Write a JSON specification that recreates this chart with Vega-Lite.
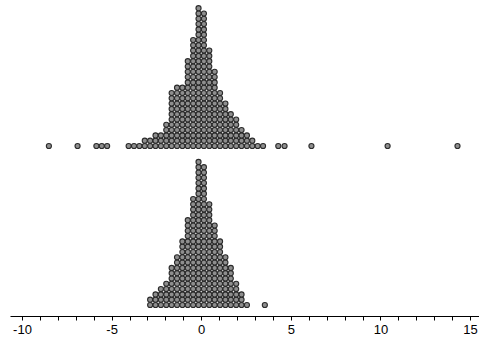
{
"$schema": "https://vega.github.io/schema/vega-lite/v6.json",
"padding": {"left": 10, "top": 0, "right": 0, "bottom": 0},
"background": "white",
"data": {"values": [
{"g":"a","v":-8.5},{"g":"a","v":-6.9},{"g":"a","v":-5.85},{"g":"a","v":-5.55},{"g":"a","v":-5.25},
{"g":"a","v":-4.05},{"g":"a","v":-3.75},{"g":"a","v":-3.45},
{"g":"a","v":-3.15},{"g":"a","v":-3.15},
{"g":"a","v":-2.85},{"g":"a","v":-2.85},
{"g":"a","v":-2.55},{"g":"a","v":-2.55},{"g":"a","v":-2.55},
{"g":"a","v":-2.25},{"g":"a","v":-2.25},{"g":"a","v":-2.25},
{"g":"a","v":-1.95},{"g":"a","v":-1.95},{"g":"a","v":-1.95},{"g":"a","v":-1.95},{"g":"a","v":-1.95},
{"g":"a","v":-1.65},{"g":"a","v":-1.65},{"g":"a","v":-1.65},{"g":"a","v":-1.65},{"g":"a","v":-1.65},{"g":"a","v":-1.65},{"g":"a","v":-1.65},{"g":"a","v":-1.65},{"g":"a","v":-1.65},{"g":"a","v":-1.65},
{"g":"a","v":-1.65},
{"g":"a","v":-1.35},{"g":"a","v":-1.35},{"g":"a","v":-1.35},{"g":"a","v":-1.35},{"g":"a","v":-1.35},{"g":"a","v":-1.35},{"g":"a","v":-1.35},{"g":"a","v":-1.35},{"g":"a","v":-1.35},{"g":"a","v":-1.35},
{"g":"a","v":-1.35},{"g":"a","v":-1.35},
{"g":"a","v":-1.05},{"g":"a","v":-1.05},{"g":"a","v":-1.05},{"g":"a","v":-1.05},{"g":"a","v":-1.05},{"g":"a","v":-1.05},{"g":"a","v":-1.05},{"g":"a","v":-1.05},{"g":"a","v":-1.05},{"g":"a","v":-1.05},
{"g":"a","v":-1.05},{"g":"a","v":-1.05},
{"g":"a","v":-0.75},{"g":"a","v":-0.75},{"g":"a","v":-0.75},{"g":"a","v":-0.75},{"g":"a","v":-0.75},{"g":"a","v":-0.75},{"g":"a","v":-0.75},{"g":"a","v":-0.75},{"g":"a","v":-0.75},{"g":"a","v":-0.75},
{"g":"a","v":-0.75},{"g":"a","v":-0.75},{"g":"a","v":-0.75},{"g":"a","v":-0.75},{"g":"a","v":-0.75},{"g":"a","v":-0.75},{"g":"a","v":-0.75},
{"g":"a","v":-0.45},{"g":"a","v":-0.45},{"g":"a","v":-0.45},{"g":"a","v":-0.45},{"g":"a","v":-0.45},{"g":"a","v":-0.45},{"g":"a","v":-0.45},{"g":"a","v":-0.45},{"g":"a","v":-0.45},{"g":"a","v":-0.45},
{"g":"a","v":-0.45},{"g":"a","v":-0.45},{"g":"a","v":-0.45},{"g":"a","v":-0.45},{"g":"a","v":-0.45},{"g":"a","v":-0.45},{"g":"a","v":-0.45},{"g":"a","v":-0.45},{"g":"a","v":-0.45},{"g":"a","v":-0.45},
{"g":"a","v":-0.45},
{"g":"a","v":-0.15},{"g":"a","v":-0.15},{"g":"a","v":-0.15},{"g":"a","v":-0.15},{"g":"a","v":-0.15},{"g":"a","v":-0.15},{"g":"a","v":-0.15},{"g":"a","v":-0.15},{"g":"a","v":-0.15},{"g":"a","v":-0.15},
{"g":"a","v":-0.15},{"g":"a","v":-0.15},{"g":"a","v":-0.15},{"g":"a","v":-0.15},{"g":"a","v":-0.15},{"g":"a","v":-0.15},{"g":"a","v":-0.15},{"g":"a","v":-0.15},{"g":"a","v":-0.15},{"g":"a","v":-0.15},
{"g":"a","v":-0.15},{"g":"a","v":-0.15},{"g":"a","v":-0.15},{"g":"a","v":-0.15},{"g":"a","v":-0.15},{"g":"a","v":-0.15},{"g":"a","v":-0.15},
{"g":"a","v":0.15},{"g":"a","v":0.15},{"g":"a","v":0.15},{"g":"a","v":0.15},{"g":"a","v":0.15},{"g":"a","v":0.15},{"g":"a","v":0.15},{"g":"a","v":0.15},{"g":"a","v":0.15},{"g":"a","v":0.15},
{"g":"a","v":0.15},{"g":"a","v":0.15},{"g":"a","v":0.15},{"g":"a","v":0.15},{"g":"a","v":0.15},{"g":"a","v":0.15},{"g":"a","v":0.15},{"g":"a","v":0.15},{"g":"a","v":0.15},{"g":"a","v":0.15},
{"g":"a","v":0.15},{"g":"a","v":0.15},{"g":"a","v":0.15},{"g":"a","v":0.15},{"g":"a","v":0.15},{"g":"a","v":0.15},
{"g":"a","v":0.45},{"g":"a","v":0.45},{"g":"a","v":0.45},{"g":"a","v":0.45},{"g":"a","v":0.45},{"g":"a","v":0.45},{"g":"a","v":0.45},{"g":"a","v":0.45},{"g":"a","v":0.45},{"g":"a","v":0.45},
{"g":"a","v":0.45},{"g":"a","v":0.45},{"g":"a","v":0.45},{"g":"a","v":0.45},{"g":"a","v":0.45},{"g":"a","v":0.45},{"g":"a","v":0.45},{"g":"a","v":0.45},{"g":"a","v":0.45},
{"g":"a","v":0.75},{"g":"a","v":0.75},{"g":"a","v":0.75},{"g":"a","v":0.75},{"g":"a","v":0.75},{"g":"a","v":0.75},{"g":"a","v":0.75},{"g":"a","v":0.75},{"g":"a","v":0.75},{"g":"a","v":0.75},
{"g":"a","v":0.75},{"g":"a","v":0.75},{"g":"a","v":0.75},{"g":"a","v":0.75},{"g":"a","v":0.75},
{"g":"a","v":1.05},{"g":"a","v":1.05},{"g":"a","v":1.05},{"g":"a","v":1.05},{"g":"a","v":1.05},{"g":"a","v":1.05},{"g":"a","v":1.05},{"g":"a","v":1.05},{"g":"a","v":1.05},{"g":"a","v":1.05},
{"g":"a","v":1.05},
{"g":"a","v":1.35},{"g":"a","v":1.35},{"g":"a","v":1.35},{"g":"a","v":1.35},{"g":"a","v":1.35},{"g":"a","v":1.35},{"g":"a","v":1.35},{"g":"a","v":1.35},{"g":"a","v":1.35},
{"g":"a","v":1.65},{"g":"a","v":1.65},{"g":"a","v":1.65},{"g":"a","v":1.65},{"g":"a","v":1.65},{"g":"a","v":1.65},{"g":"a","v":1.65},
{"g":"a","v":1.95},{"g":"a","v":1.95},{"g":"a","v":1.95},{"g":"a","v":1.95},{"g":"a","v":1.95},{"g":"a","v":1.95},
{"g":"a","v":2.25},{"g":"a","v":2.25},{"g":"a","v":2.25},{"g":"a","v":2.25},
{"g":"a","v":2.55},{"g":"a","v":2.55},{"g":"a","v":2.55},
{"g":"a","v":2.85},{"g":"a","v":2.85},
{"g":"a","v":3.15},{"g":"a","v":3.45},{"g":"a","v":4.3},{"g":"a","v":4.65},{"g":"a","v":6.15},{"g":"a","v":10.4},{"g":"a","v":14.3},
{"g":"b","v":-2.85},{"g":"b","v":-2.85},
{"g":"b","v":-2.55},{"g":"b","v":-2.55},{"g":"b","v":-2.55},
{"g":"b","v":-2.25},{"g":"b","v":-2.25},{"g":"b","v":-2.25},{"g":"b","v":-2.25},
{"g":"b","v":-1.95},{"g":"b","v":-1.95},{"g":"b","v":-1.95},{"g":"b","v":-1.95},{"g":"b","v":-1.95},
{"g":"b","v":-1.65},{"g":"b","v":-1.65},{"g":"b","v":-1.65},{"g":"b","v":-1.65},{"g":"b","v":-1.65},{"g":"b","v":-1.65},{"g":"b","v":-1.65},{"g":"b","v":-1.65},
{"g":"b","v":-1.35},{"g":"b","v":-1.35},{"g":"b","v":-1.35},{"g":"b","v":-1.35},{"g":"b","v":-1.35},{"g":"b","v":-1.35},{"g":"b","v":-1.35},{"g":"b","v":-1.35},{"g":"b","v":-1.35},{"g":"b","v":-1.35},
{"g":"b","v":-1.05},{"g":"b","v":-1.05},{"g":"b","v":-1.05},{"g":"b","v":-1.05},{"g":"b","v":-1.05},{"g":"b","v":-1.05},{"g":"b","v":-1.05},{"g":"b","v":-1.05},{"g":"b","v":-1.05},{"g":"b","v":-1.05},
{"g":"b","v":-1.05},{"g":"b","v":-1.05},{"g":"b","v":-1.05},
{"g":"b","v":-0.75},{"g":"b","v":-0.75},{"g":"b","v":-0.75},{"g":"b","v":-0.75},{"g":"b","v":-0.75},{"g":"b","v":-0.75},{"g":"b","v":-0.75},{"g":"b","v":-0.75},{"g":"b","v":-0.75},{"g":"b","v":-0.75},
{"g":"b","v":-0.75},{"g":"b","v":-0.75},{"g":"b","v":-0.75},{"g":"b","v":-0.75},{"g":"b","v":-0.75},{"g":"b","v":-0.75},{"g":"b","v":-0.75},
{"g":"b","v":-0.45},{"g":"b","v":-0.45},{"g":"b","v":-0.45},{"g":"b","v":-0.45},{"g":"b","v":-0.45},{"g":"b","v":-0.45},{"g":"b","v":-0.45},{"g":"b","v":-0.45},{"g":"b","v":-0.45},{"g":"b","v":-0.45},
{"g":"b","v":-0.45},{"g":"b","v":-0.45},{"g":"b","v":-0.45},{"g":"b","v":-0.45},{"g":"b","v":-0.45},{"g":"b","v":-0.45},{"g":"b","v":-0.45},{"g":"b","v":-0.45},{"g":"b","v":-0.45},{"g":"b","v":-0.45},
{"g":"b","v":-0.45},
{"g":"b","v":-0.15},{"g":"b","v":-0.15},{"g":"b","v":-0.15},{"g":"b","v":-0.15},{"g":"b","v":-0.15},{"g":"b","v":-0.15},{"g":"b","v":-0.15},{"g":"b","v":-0.15},{"g":"b","v":-0.15},{"g":"b","v":-0.15},
{"g":"b","v":-0.15},{"g":"b","v":-0.15},{"g":"b","v":-0.15},{"g":"b","v":-0.15},{"g":"b","v":-0.15},{"g":"b","v":-0.15},{"g":"b","v":-0.15},{"g":"b","v":-0.15},{"g":"b","v":-0.15},{"g":"b","v":-0.15},
{"g":"b","v":-0.15},{"g":"b","v":-0.15},{"g":"b","v":-0.15},{"g":"b","v":-0.15},{"g":"b","v":-0.15},{"g":"b","v":-0.15},{"g":"b","v":-0.15},{"g":"b","v":-0.15},
{"g":"b","v":0.15},{"g":"b","v":0.15},{"g":"b","v":0.15},{"g":"b","v":0.15},{"g":"b","v":0.15},{"g":"b","v":0.15},{"g":"b","v":0.15},{"g":"b","v":0.15},{"g":"b","v":0.15},{"g":"b","v":0.15},
{"g":"b","v":0.15},{"g":"b","v":0.15},{"g":"b","v":0.15},{"g":"b","v":0.15},{"g":"b","v":0.15},{"g":"b","v":0.15},{"g":"b","v":0.15},{"g":"b","v":0.15},{"g":"b","v":0.15},{"g":"b","v":0.15},
{"g":"b","v":0.15},{"g":"b","v":0.15},{"g":"b","v":0.15},{"g":"b","v":0.15},{"g":"b","v":0.15},{"g":"b","v":0.15},{"g":"b","v":0.15},
{"g":"b","v":0.45},{"g":"b","v":0.45},{"g":"b","v":0.45},{"g":"b","v":0.45},{"g":"b","v":0.45},{"g":"b","v":0.45},{"g":"b","v":0.45},{"g":"b","v":0.45},{"g":"b","v":0.45},{"g":"b","v":0.45},
{"g":"b","v":0.45},{"g":"b","v":0.45},{"g":"b","v":0.45},{"g":"b","v":0.45},{"g":"b","v":0.45},{"g":"b","v":0.45},{"g":"b","v":0.45},{"g":"b","v":0.45},{"g":"b","v":0.45},{"g":"b","v":0.45},
{"g":"b","v":0.75},{"g":"b","v":0.75},{"g":"b","v":0.75},{"g":"b","v":0.75},{"g":"b","v":0.75},{"g":"b","v":0.75},{"g":"b","v":0.75},{"g":"b","v":0.75},{"g":"b","v":0.75},{"g":"b","v":0.75},
{"g":"b","v":0.75},{"g":"b","v":0.75},{"g":"b","v":0.75},{"g":"b","v":0.75},{"g":"b","v":0.75},{"g":"b","v":0.75},
{"g":"b","v":1.05},{"g":"b","v":1.05},{"g":"b","v":1.05},{"g":"b","v":1.05},{"g":"b","v":1.05},{"g":"b","v":1.05},{"g":"b","v":1.05},{"g":"b","v":1.05},{"g":"b","v":1.05},{"g":"b","v":1.05},
{"g":"b","v":1.05},{"g":"b","v":1.05},{"g":"b","v":1.05},
{"g":"b","v":1.35},{"g":"b","v":1.35},{"g":"b","v":1.35},{"g":"b","v":1.35},{"g":"b","v":1.35},{"g":"b","v":1.35},{"g":"b","v":1.35},{"g":"b","v":1.35},{"g":"b","v":1.35},{"g":"b","v":1.35},
{"g":"b","v":1.65},{"g":"b","v":1.65},{"g":"b","v":1.65},{"g":"b","v":1.65},{"g":"b","v":1.65},{"g":"b","v":1.65},{"g":"b","v":1.65},{"g":"b","v":1.65},
{"g":"b","v":1.95},{"g":"b","v":1.95},{"g":"b","v":1.95},{"g":"b","v":1.95},{"g":"b","v":1.95},
{"g":"b","v":2.25},{"g":"b","v":2.25},{"g":"b","v":2.25},
{"g":"b","v":2.55},
{"g":"b","v":3.55}
]},
"transform": [
  {"window": [{"op": "row_number", "as": "lvl"}], "groupby": ["g", "v"]}
],
"spacing": 0,
"vconcat": [
  {
    "width": 469,
    "height": 157,
    "transform": [{"filter": "datum.g === 'a'"}],
    "mark": {"type": "circle", "size": 26, "fill": "#8e8e8e", "stroke": "#2a2a2a", "strokeWidth": 1.1, "opacity": 1},
    "encoding": {
      "x": {"field": "v", "type": "quantitative",
        "scale": {"domain": [-10.67, 15.5], "nice": false, "zero": false},
        "axis": null},
      "y": {"field": "lvl", "type": "quantitative",
        "scale": {"domain": [-1.075, 28.55], "nice": false, "zero": false},
        "axis": null}
    }
  },
  {
    "width": 469,
    "height": 157,
    "transform": [{"filter": "datum.g === 'b'"}],
    "mark": {"type": "circle", "size": 26, "fill": "#8e8e8e", "stroke": "#2a2a2a", "strokeWidth": 1.1, "opacity": 1},
    "encoding": {
      "x": {"field": "v", "type": "quantitative",
        "scale": {"domain": [-10.67, 15.5], "nice": false, "zero": false},
        "axis": {
          "values": [-10,-9,-8,-7,-6,-5,-4,-3,-2,-1,0,1,2,3,4,5,6,7,8,9,10,11,12,13,14,15],
          "labelExpr": "datum.value % 5 === 0 ? '' + datum.value : ''",
          "title": null, "grid": false,
          "domainColor": "#000000", "tickColor": "#000000", "tickSize": 4,
          "labelFont": "Liberation Sans", "labelFontSize": 13, "labelColor": "#000000",
          "labelPadding": 3, "labelOverlap": false, "labelFlush": false, "labelBound": false
        }},
      "y": {"field": "lvl", "type": "quantitative",
        "scale": {"domain": [-1.075, 28.55], "nice": false, "zero": false},
        "axis": null}
    }
  }
],
"config": {"view": {"stroke": null}}
}
